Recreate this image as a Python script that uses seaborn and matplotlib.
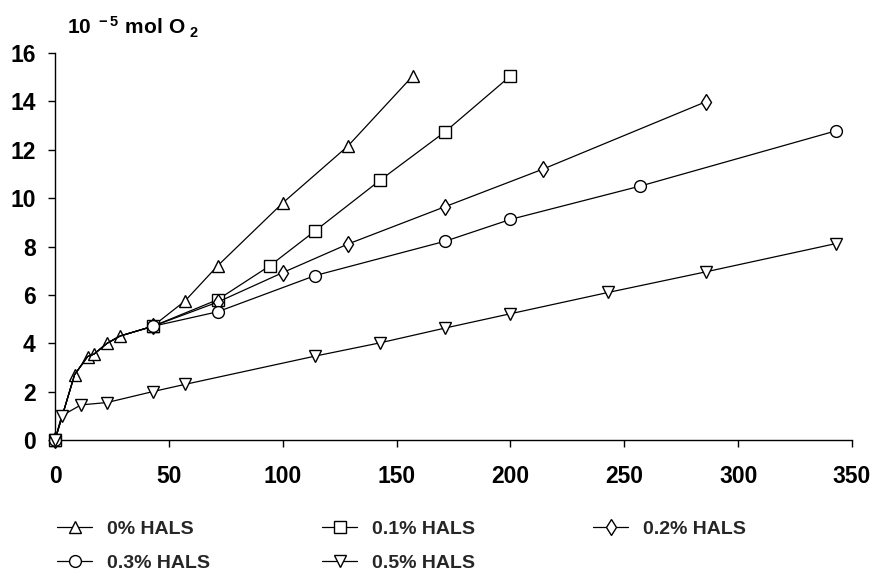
import matplotlib
matplotlib.use("Agg")
import matplotlib.pyplot as plt
import seaborn as sns
import pandas as pd

# ---- data ----
t_0 = [0, 8.6, 14.3, 17.1, 22.9, 28.6, 42.9, 57.1, 71.4, 100, 128.6, 157.1]
y_0 = [0, 2.7, 3.45, 3.55, 4.0, 4.3, 4.7, 5.75, 7.2, 9.8, 12.15, 15.05]

# early curve shared by the 0.1/0.2/0.3 % series (drawn without markers)
t_shared = [8.6, 14.3, 17.1, 22.9, 28.6]
y_shared = [2.7, 3.45, 3.55, 4.0, 4.3]

t_1 = [0, 42.9, 71.4, 94.3, 114.3, 142.9, 171.4, 200]
y_1 = [0, 4.7, 5.8, 7.2, 8.65, 10.75, 12.75, 15.05]

t_2 = [0, 42.9, 71.4, 100, 128.6, 171.4, 214.3, 285.7]
y_2 = [0, 4.7, 5.7, 6.92, 8.1, 9.65, 11.2, 13.98]

t_3 = [0, 42.9, 71.4, 114.3, 171.4, 200, 257.1, 342.9]
y_3 = [0, 4.7, 5.3, 6.8, 8.22, 9.12, 10.5, 12.78]

t_5 = [0, 2.9, 11.4, 22.9, 42.9, 57.1, 114.3, 142.9, 171.4, 200, 242.9, 285.7, 342.9]
y_5 = [0, 1.0, 1.45, 1.55, 2.0, 2.3, 3.47, 4.02, 4.63, 5.22, 6.1, 6.95, 8.12]

labels = ["0% HALS", "0.1% HALS", "0.2% HALS", "0.3% HALS", "0.5% HALS"]
x_ticks = [0, 50, 100, 150, 200, 250, 300, 350]
y_ticks = [0, 2, 4, 6, 8, 10, 12, 14, 16]

sns.set_theme(style="ticks")
plt.rcParams["font.family"] = ["Liberation Sans", "DejaVu Sans"]
plt.rcParams["mathtext.fontset"] = "custom"
plt.rcParams["mathtext.rm"] = "Liberation Sans:bold"
plt.rcParams["mathtext.bf"] = "Liberation Sans:bold"

W, H = 876, 576
fig = plt.figure(figsize=(W / 100, H / 100), dpi=100)
ax = fig.add_axes([55 / W, 1 - 440 / H, (852 - 55) / W, (440 - 53) / H])


def build(t, y, shared):
    if shared:
        tt = [t[0]] + t_shared + t[1:]
        yy = [y[0]] + y_shared + y[1:]
        mk = [0] + list(range(1 + len(t_shared), len(tt)))
    else:
        tt, yy = t, y
        mk = list(range(len(tt)))
    return pd.DataFrame({"t": tt, "y": yy}), mk


series = [
    (t_0, y_0, False, "^", 9),
    (t_1, y_1, True, "s", 8),
    (t_2, y_2, True, "d", 8.5),
    (t_3, y_3, True, "o", 8.5),
    (t_5, y_5, False, "v", 9),
]

for (t, y, shared, m, ms), lab in zip(series, labels):
    df, mk = build(t, y, shared)
    sns.lineplot(data=df, x="t", y="y", ax=ax, sort=False, estimator=None,
                 color="black", linewidth=0.9, marker=m, markersize=ms,
                 markerfacecolor="white", markeredgecolor="black",
                 markeredgewidth=1.0, markevery=mk, label=lab, legend=False,
                 clip_on=False, zorder=3)

ax.set_xlim(0, 350)
ax.set_ylim(0, 16)
ax.set_xticks(x_ticks)
ax.set_yticks(y_ticks)
ax.set_xticklabels([str(v) for v in x_ticks])
ax.set_yticklabels([str(v) for v in y_ticks])
ax.set_xlabel("")
ax.set_ylabel("")
for s in ["top", "right"]:
    ax.spines[s].set_visible(False)
for s in ["left", "bottom"]:
    ax.spines[s].set_linewidth(1.0)
    ax.spines[s].set_color("black")
ax.tick_params(axis="both", direction="out", length=5, width=1.0, colors="black",
               labelsize=16.5)
ax.tick_params(axis="y", pad=9)
ax.tick_params(axis="x", pad=13)
for lbl in ax.get_xticklabels() + ax.get_yticklabels():
    lbl.set_fontweight("bold")

fig.text(67 / W, 1 - 27 / H, r"$\mathbf{10^{\ -5}\ mol\ O_{\ 2}}$", fontsize=15,
         ha="left", va="center", color="black")

handles, labs = ax.get_legend_handles_labels()
columns = [([0, 3], 57), ([1, 4], 322), ([2], 593)]
prop = {"family": "Liberation Sans", "weight": "bold", "size": 14}
for idx, xpx in columns:
    fig.legend([handles[i] for i in idx], [labs[i] for i in idx],
               loc="upper left", bbox_to_anchor=(xpx / W, 1 - 520 / H),
               ncol=1, frameon=False, handlelength=1.8, handletextpad=0.75,
               labelspacing=0.85, borderaxespad=0, borderpad=0, prop=prop)

fig.savefig("out.png", dpi=100, facecolor="white")
